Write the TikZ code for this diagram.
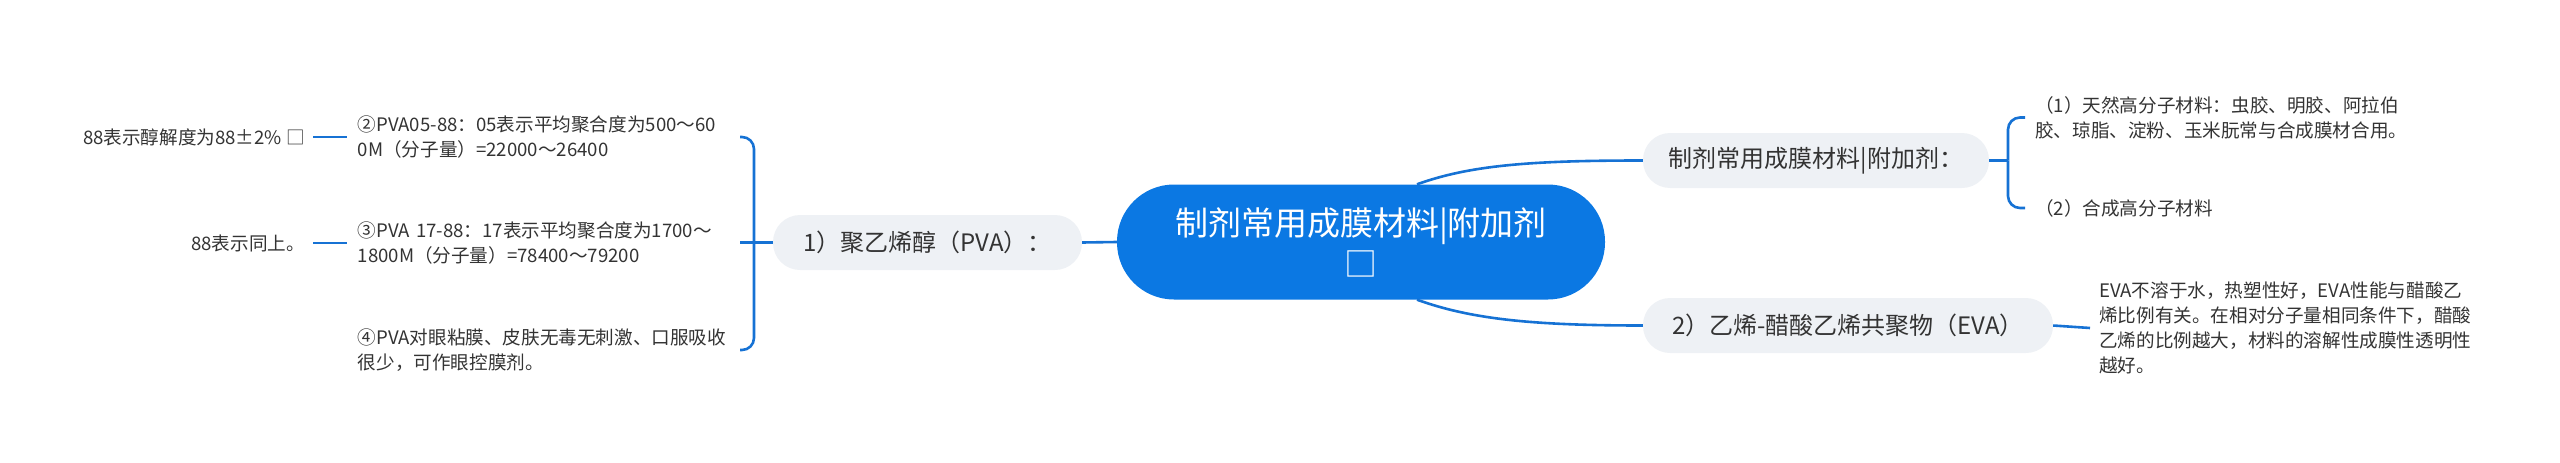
\documentclass[tikz,border=0pt]{standalone}
\usepackage{fontspec}
\setmainfont{Noto Sans CJK SC}

\definecolor{mapblue}{HTML}{0B78E3}
\definecolor{linkblue}{HTML}{1672D4}
\definecolor{pillgray}{HTML}{EEF1F5}
\definecolor{inkgray}{HTML}{333333}

\tikzset{
  topic/.style={rectangle,rounded corners=57pt,fill=mapblue,text=white,minimum width=488pt,minimum height=115pt,align=center,font=\fontsize{33}{41}\selectfont},
  branch/.style={rectangle,rounded corners=27pt,fill=pillgray,text=inkgray,minimum height=55pt,font=\fontsize{24}{30}\selectfont},
  leaf/.style={text=inkgray,align=left,font=\fontsize{18.6}{25}\selectfont},
  link/.style={draw=linkblue,line width=2.6pt}
}

\begin{document}
\begin{tikzpicture}[x=1pt,y=-1pt]
\useasboundingbox (0,0) rectangle (2560,463);

\node[topic] (root) at (1361,242) {制剂常用成膜材料|附加剂\\□};
\node[branch,minimum width=309pt] (pva) at (927.5,242.5) {1）聚乙烯醇（PVA）：};
\node[branch,minimum width=346pt] (film) at (1816,160.5) {制剂常用成膜材料|附加剂：};
\node[branch,minimum width=410pt] (eva) at (1848,325.5) {2）乙烯-醋酸乙烯共聚物（EVA）};

\node[leaf,anchor=east,text width=371pt,inner xsep=11pt] (pva2) at (740,137) {②PVA05-88：05表示平均聚合度为500～60\\0M（分子量）=22000～26400};
\node[leaf,anchor=east,text width=371pt,inner xsep=11pt] (pva3) at (740,243) {③PVA 17-88：17表示平均聚合度为1700～\\1800M（分子量）=78400～79200};
\node[leaf,anchor=east,text width=371pt,inner xsep=11pt] (pva4) at (740,350) {④PVA对眼粘膜、皮肤无毒无刺激、口服吸收\\很少，可作眼控膜剂。};
\node[leaf,anchor=east,align=right,inner xsep=8pt] (note2) at (313,137) {88表示醇解度为88±2\% □};
\node[leaf,anchor=east,align=right,inner xsep=8pt] (note3) at (313,243) {88表示同上。};

\node[leaf,anchor=west,text width=385pt,inner xsep=10pt] (nat) at (2025,117.5) {（1）天然高分子材料：虫胶、明胶、阿拉伯\\胶、琼脂、淀粉、玉米朊常与合成膜材合用。};
\node[leaf,anchor=west,text width=385pt,inner xsep=10pt] (syn) at (2025,208) {（2）合成高分子材料};
\node[leaf,anchor=west,text width=385pt,inner xsep=9pt] (evanote) at (2090,328) {EVA不溶于水，热塑性好，EVA性能与醋酸乙\\烯比例有关。在相对分子量相同条件下，醋酸\\乙烯的比例越大，材料的溶解性成膜性透明性\\越好。};

\coordinate (pvafork) at (754,242.5);
\coordinate (filmfork) at (2008,160.5);

\draw[link] (root.west) -- (pva.east);
\draw[link] ([xshift=56pt]root.north) .. controls +(53,-19) and +(-113,0) .. (film.west);
\draw[link] ([xshift=56pt]root.south) .. controls +(53,19) and +(-113,0) .. (eva.west);

\draw[link] (pva.west) -- (pvafork);
\draw[link] (pvafork) -- (pvafork -| pva3.east);
\draw[link,rounded corners=12pt] (pvafork) |- (pva2.east);
\draw[link,rounded corners=12pt] (pvafork) |- (pva4.east);
\draw[link] (pva2.west) -- (note2.east);
\draw[link] (pva3.west) -- (note3.east);

\draw[link] (film.east) -- (filmfork);
\draw[link,rounded corners=12pt] (filmfork) |- (nat.west);
\draw[link,rounded corners=12pt] (filmfork) |- (syn.west);
\draw[link] (eva.east) -- (evanote.west);
\end{tikzpicture}
\end{document}
